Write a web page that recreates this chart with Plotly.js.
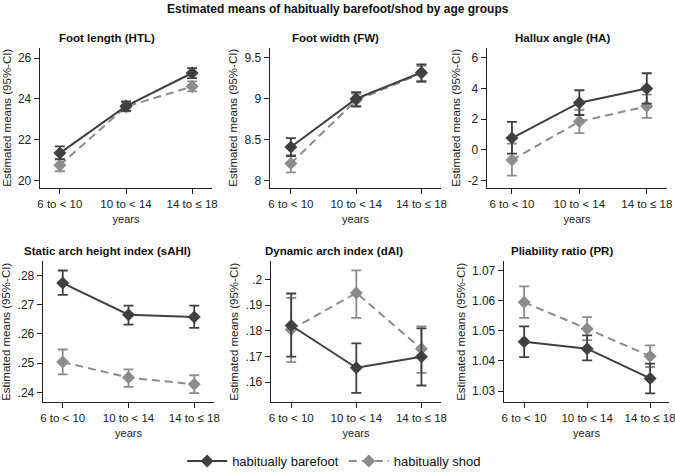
<!DOCTYPE html>
<html>
<head>
<meta charset="utf-8">
<script src="https://cdn.plot.ly/plotly-3.0.1.min.js"></script>
<style>
  body { margin: 0; padding: 0; background: #fff; }
  #chart { width: 675px; height: 476px; }
</style>
</head>
<body>
<div id="chart"></div>
<script>
var ageGroups = ['6 to < 10', '10 to < 14', '14 to \u2264 18'];

var panelTitles = ['Foot length (HTL)', 'Foot width (FW)', 'Hallux angle (HA)',
                   'Static arch height index (sAHI)', 'Dynamic arch index (dAI)', 'Pliability ratio (PR)'];

// estimated means and 95% CI, one row per panel
var bareMean = [[21.35, 23.65, 25.27], [8.41, 9.0, 9.32], [0.78, 3.08, 4.0],
                [0.2774, 0.2666, 0.2658], [0.1821, 0.1656, 0.1699], [1.0464, 1.0441, 1.0342]];
var bareLow  = [[21.05, 23.42, 25.02], [8.30, 8.91, 9.21], [-0.24, 2.28, 3.02],
                [0.2734, 0.2632, 0.2621], [0.1700, 0.1558, 0.1587], [1.0413, 1.0402, 1.0292]];
var bareHigh = [[21.68, 23.88, 25.51], [8.52, 9.08, 9.42], [1.83, 3.89, 5.0],
                [0.2817, 0.2697, 0.2697], [0.1946, 0.1751, 0.1810], [1.0515, 1.0485, 1.0391]];

var shodMean = [[20.76, 23.62, 24.61], [8.21, 8.98, 9.31], [-0.65, 1.85, 2.85],
                [0.2504, 0.2451, 0.2428], [0.1805, 0.1948, 0.1730], [1.0595, 1.0507, 1.0416]];
var shodLow  = [[20.46, 23.39, 24.37], [8.10, 8.90, 9.21], [-1.67, 1.1, 2.09],
                [0.2462, 0.2419, 0.2398], [0.1678, 0.1851, 0.1636], [1.0543, 1.0469, 1.0380]];
var shodHigh = [[21.03, 23.85, 24.86], [8.31, 9.06, 9.40], [0.41, 2.62, 3.6],
                [0.2547, 0.2479, 0.2459], [0.1929, 0.2036, 0.1818], [1.0648, 1.0546, 1.0452]];

var yTicks = [[20, 22, 24, 26], [8, 8.5, 9, 9.5], [-2, 0, 2, 4, 6],
              [0.24, 0.25, 0.26, 0.27, 0.28], [0.16, 0.17, 0.18, 0.19, 0.2], [1.03, 1.04, 1.05, 1.06, 1.07]];
var yTickText = [['20', '22', '24', '26'], ['8', '8.5', '9', '9.5'], ['-2', '0', '2', '4', '6'],
                 ['.24', '.25', '.26', '.27', '.28'], ['.16', '.17', '.18', '.19', '.2'],
                 ['1.03', '1.04', '1.05', '1.06', '1.07']];

var seriesNames = ['habitually barefoot', 'habitually shod'];

// layout geometry (pixels in a 675x476 page)
var W = 675, H = 476;
var xPix = [[40, 212], [270, 441], [487, 667], [43, 214], [271, 441], [504, 669]];
var yPix = [[48, 188], [48, 188], [48, 188], [262, 403], [262, 403], [262, 403]];
var titleX = [107, 335, 562, 107, 334, 562];
var titleY = [38, 38, 38, 252, 252, 252];
var xRanges = [[-0.3, 2.3], [-0.32, 2.3], [-0.37, 2.3], [-0.3, 2.3], [-0.31, 2.3], [-0.32, 2.3]];
var yRanges = [[19.66, 26.5], [7.915, 9.62], [-2.45, 6.65], [0.2367, 0.2848], [0.1522, 0.2071], [1.0263, 1.0731]];

var darkCol = 'rgb(64,64,64)';
var greyCol = 'rgb(140,140,140)';
var fontFam = 'Liberation Sans, Arial, sans-serif';

function diff(a, b) { return a.map(function (v, i) { return v - b[i]; }); }

var data = [];
var layout = {
  width: W, height: H,
  margin: {l: 0, r: 0, t: 0, b: 0},
  paper_bgcolor: 'white',
  plot_bgcolor: 'white',
  font: {family: fontFam, size: 11, color: '#222'},
  showlegend: true,
  legend: {
    orientation: 'h', x: 0.495, xanchor: 'center', y: 1 - 462 / H, yanchor: 'middle',
    font: {size: 13, color: '#111'}, itemwidth: 40, tracegroupgap: 0
  },
  annotations: [{
    text: '<b>Estimated means of habitually barefoot/shod by age groups</b>',
    xref: 'paper', yref: 'paper', x: 0.5, y: 1 - 9 / H, xanchor: 'center', yanchor: 'middle',
    showarrow: false, font: {size: 12, color: '#111'}
  }],
  hovermode: false
};

for (var p = 0; p < 6; p++) {
  var n = p + 1;
  var xa = 'x' + (n === 1 ? '' : n), ya = 'y' + (n === 1 ? '' : n);
  var xk = 'xaxis' + (n === 1 ? '' : n), yk = 'yaxis' + (n === 1 ? '' : n);

  data.push({
    type: 'scatter', mode: 'lines+markers', x: ageGroups, y: shodMean[p],
    xaxis: xa, yaxis: ya, name: seriesNames[1], showlegend: p === 0, legendrank: 2,
    line: {color: greyCol, width: 2, dash: '8px,5px'},
    marker: {symbol: 'diamond', size: 10, color: greyCol},
    error_y: {type: 'data', symmetric: false, array: diff(shodHigh[p], shodMean[p]),
              arrayminus: diff(shodMean[p], shodLow[p]), color: greyCol, thickness: 1.8, width: 5}
  });
  data.push({
    type: 'scatter', mode: 'lines+markers', x: ageGroups, y: bareMean[p],
    xaxis: xa, yaxis: ya, name: seriesNames[0], showlegend: p === 0, legendrank: 1,
    line: {color: darkCol, width: 2},
    marker: {symbol: 'diamond', size: 10, color: darkCol},
    error_y: {type: 'data', symmetric: false, array: diff(bareHigh[p], bareMean[p]),
              arrayminus: diff(bareMean[p], bareLow[p]), color: darkCol, thickness: 1.8, width: 5}
  });

  layout[xk] = {
    domain: [xPix[p][0] / W, xPix[p][1] / W], anchor: ya, type: 'category',
    range: xRanges[p], showgrid: false, zeroline: false, showline: true,
    linecolor: '#222', linewidth: 1.3, ticks: 'outside', ticklen: 5, tickcolor: '#222',
    tickfont: {size: 11.5, color: '#222'},
    title: {text: 'years', font: {size: 11, color: '#222'}, standoff: 6},
    automargin: false
  };
  layout[yk] = {
    domain: [1 - yPix[p][1] / H, 1 - yPix[p][0] / H], anchor: xa,
    range: yRanges[p], showgrid: false, zeroline: false, showline: true,
    linecolor: '#222', linewidth: 1.3, ticks: 'outside', ticklen: 5, tickcolor: '#222',
    tickvals: yTicks[p], ticktext: yTickText[p], tickfont: {size: 12, color: '#222'},
    title: {text: 'Estimated means (95%-CI)', font: {size: 11.5, color: '#222'}, standoff: 4},
    automargin: false
  };

  layout.annotations.push({
    text: '<b>' + panelTitles[p] + '</b>',
    xref: 'paper', yref: 'paper', x: titleX[p] / W,
    y: 1 - titleY[p] / H, xanchor: 'center', yanchor: 'middle',
    showarrow: false, font: {size: 11.5, color: '#111'}
  });
}

Plotly.newPlot('chart', data, layout, {displayModeBar: false, staticPlot: true});
</script>
</body>
</html>
